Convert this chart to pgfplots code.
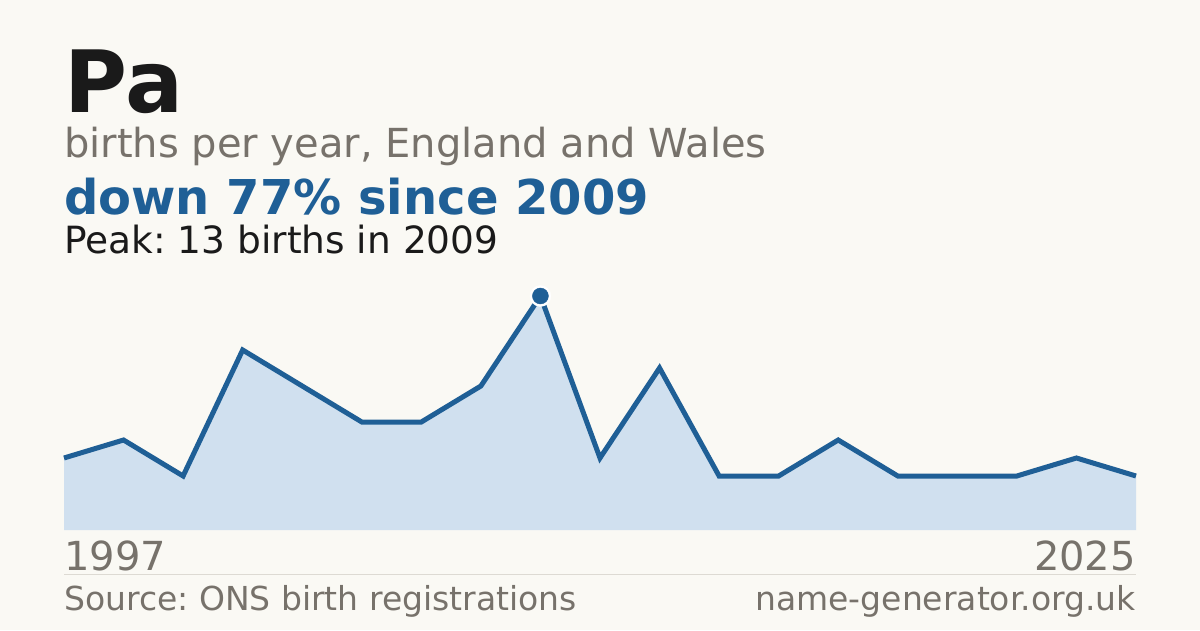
\documentclass[border=0pt]{standalone}
\usepackage{pgfplots}
\pgfplotsset{compat=1.18}
\usepackage{fontspec}
\setmainfont{DejaVu Sans}
\frenchspacing

\definecolor{bg}{HTML}{FAF9F4}
\definecolor{ink}{HTML}{1A1A1A}
\definecolor{muted}{HTML}{77726B}
\definecolor{accent}{HTML}{1F5F96}
\definecolor{areafill}{HTML}{D0E0EF}
\definecolor{rule}{HTML}{DDDAD3}

% births per year, index 0 = 1997 ... 18 = 2025
\pgfplotstableread{
i births
0 4
1 5
2 3
3 10
4 8
5 6
6 6
7 8
8 13
9 4
10 9
11 3
12 3
13 5
14 3
15 3
16 3
17 4
18 3
}\births

\begin{document}
\begin{tikzpicture}[x=1pt,y=1pt]
  \fill[bg] (0,0) rectangle (1200,630);
  \useasboundingbox (0,0) rectangle (1200,630);

  % heading block
  \node[anchor=base west, inner sep=0, text=ink, font=\fontsize{86}{90}\selectfont\bfseries] at (64,517) {Pa};
  \node[anchor=base west, inner sep=0, text=muted, font=\fontsize{40}{44}\selectfont] at (64,472.5) {births per year, England and Wales};
  \node[anchor=base west, inner sep=0, text=accent, font=\fontsize{48}{52}\selectfont\bfseries] at (64,415) {down 77\% since 2009};
  \node[anchor=base west, inner sep=0, text=ink, font=\fontsize{37.5}{40}\selectfont] at (64,376) {Peak: 13 births in 2009};

  \begin{axis}[
      at={(64pt,100pt)}, anchor=origin,
      width=1072pt, height=234pt,
      scale only axis,
      xmin=0, xmax=18,
      ymin=0, ymax=13,
      axis lines=none,
      xtick=\empty, ytick=\empty,
      clip=false,
    ]
    \addplot[fill=areafill, draw=none] table[x=i, y=births] {\births} \closedcycle;
    \addplot[accent, line width=5pt, line join=miter, no marks] table[x=i, y=births] {\births};
    % peak marker: white halo, then the dot
    \addplot[white, only marks, mark=*, mark size=10.5pt] coordinates {(8,13)};
    \addplot[accent, only marks, mark=*, mark size=8pt] coordinates {(8,13)};
  \end{axis}

  % year labels, rule and footer
  \node[anchor=base west, inner sep=0, text=muted, font=\fontsize{40}{44}\selectfont] at (64,59.5) {1997};
  \node[anchor=base east, inner sep=0, text=muted, font=\fontsize{40}{44}\selectfont] at (1136,59.5) {2025};
  \draw[rule, line width=1pt] (64,55.5) -- (1136,55.5);
  \node[anchor=base west, inner sep=0, text=muted, font=\fontsize{33}{36}\selectfont] at (64,20) {Source: ONS birth registrations};
  \node[anchor=base east, inner sep=0, text=muted, font=\fontsize{33}{36}\selectfont] at (1136,20) {name-generator.org.uk};
\end{tikzpicture}
\end{document}
